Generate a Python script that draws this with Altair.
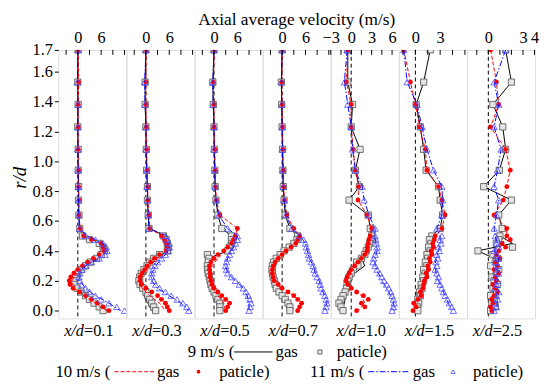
import altair as alt
import pandas as pd

FONT = "Liberation Serif"
W, H = 69, 272

PANELS = ["0.1", "0.3", "0.5", "0.7", "1.0", "1.5", "2.5"]
X_DOMAINS = [[-5, 12.5]] * 4 + [[-3, 7], [-2, 6.25], [-1.85, 4.05]]
X_LABELS = [[0, 6]] * 4 + [[-3, 0, 3, 6], [0, 3], [0, 3, 4]]
X_TICKS = [[-3, 0, 3, 6, 9, 12]] * 4 + [[-3, -1.5, 0, 1.5, 3, 4.5, 6],
                                        [-1.5, 0, 1.5, 3, 4.5, 6],
                                        [-1, 0, 1, 2, 3, 4]]
Y_TICKS = [0.0, 0.2, 0.4, 0.6, 0.8, 1.0, 1.2, 1.4, 1.6, 1.7]

R_UP = [1.70, 1.53, 1.38, 1.23, 1.08, 0.94, 0.83, 0.74, 0.64, 0.55]
R_GAS_LOW = [0.50, 0.45, 0.40, 0.35, 0.30, 0.25, 0.20, 0.15, 0.10, 0.05, 0.00]
R_PT_LOW = [0.500, 0.475, 0.450, 0.425, 0.400, 0.375, 0.350, 0.325, 0.300, 0.275, 0.250,
            0.225, 0.200, 0.175, 0.150, 0.125, 0.100, 0.075, 0.050, 0.025, 0.000]

up9 = [
    [0.1, 0.0, 0.1, 0.0, 0.1, 0.1, 0.2, 0.2, 0.3, 0.5],
    [0.0, -0.2, -0.2, 0.0, 0.1, 0.2, 0.4, 0.4, 0.6, 0.8],
    [0.0, -0.3, -0.2, 0.0, 0.1, 0.2, 0.3, 0.5, 1.0, 2.0],
    [0.0, -0.2, -0.1, 0.0, 0.1, 0.2, 0.3, 0.5, 0.8, 2.0],
    [-0.5, -0.5, 0.2, 0.0, 1.3, 0.6, 1.2, -0.3, 2.5, 2.8],
    [1.8, 1.0, 0.1, 0.6, 1.0, 1.3, 2.8, 3.0, 3.3, 3.0],
    [1.5, 2.0, 0.4, 1.25, 1.5, 0.95, -0.4, 2.0, 0.9, 1.2],
]
up10 = [
    [0.1, 0.2, 0.1, 0.1, 0.1, 0.2, 0.2, 0.3, 0.3, 0.6],
    [0.1, 0.0, 0.0, 0.1, 0.2, 0.3, 0.5, 0.5, 0.8, 1.0],
    [0.1, -0.2, 0.0, 0.0, 0.2, 0.3, 0.4, 0.6, 1.5, 6.0],
    [0.1, -0.1, 0.0, 0.1, 0.2, 0.3, 0.4, 0.6, 1.2, 3.0],
    [-0.5, -0.7, 0.0, 0.0, 0.3, 0.6, 1.1, 1.0, 2.3, 3.0],
    [-1.4, -0.6, 0.0, 0.5, 1.2, 1.4, 2.8, 3.2, 3.6, 3.2],
    [0.2, 0.7, 0.9, 0.2, 1.5, 1.9, 1.6, 1.3, 0.5, 1.6],
]
up11 = [
    [0.0, -0.1, 0.0, 0.0, 0.0, 0.1, 0.1, 0.2, 0.2, 0.4],
    [0.0, -0.3, -0.2, 0.0, 0.0, 0.2, 0.3, 0.4, 0.6, 0.8],
    [0.0, -0.3, -0.2, 0.0, 0.0, 0.2, 0.3, 0.5, 1.2, 3.5],
    [0.0, -0.2, -0.1, 0.0, 0.1, 0.2, 0.3, 0.5, 1.0, 2.5],
    [-0.6, -1.0, -0.5, 0.0, 0.2, 0.6, 1.6, 1.9, 2.6, 3.5],
    [-1.4, -1.0, 0.2, 0.8, 1.4, 2.2, 3.2, 3.3, 3.2, 2.6],
    [1.5, 0.5, 0.9, 0.5, 1.1, 0.8, 0.5, 0.9, 0.7, 0.5],
]

gas9 = [
    [1.5, 6.0, 6.8, 4.5, 2.0, 0.0, -1.0, -0.5, 1.5, 4.0, 6.0],
    [5.0, 5.5, 5.5, 2.5, 0.8, -1.0, -1.5, 0.5, -0.5, 0.5, 1.5],
    [4.5, 4.5, 3.5, -1.5, -1.5, -1.2, -0.8, -0.5, 0.5, 1.5, 1.5],
    [4.0, 3.0, 0.5, -1.5, -2.5, -2.5, -2.0, -1.5, 0.0, 1.5, 2.0],
    [3.0, 2.8, 2.3, 1.5, 2.0, 0.5, -0.3, -0.5, -0.8, -1.0, -1.5],
    [2.0, 1.8, 1.6, 1.4, 1.3, 1.0, 0.8, 0.6, 0.4, 0.2, 0.2],
    [1.0, 2.1, -0.9, 0.5, 0.8, 0.4, 0.6, 0.3, 0.5, 0.2, 0.4],
]
gas10 = [
    [2.0, 6.0, 7.0, 5.0, 2.0, 0.0, -1.5, -1.0, 1.5, 4.5, 7.5],
    [4.0, 5.0, 5.5, 3.0, 1.0, -0.8, -1.5, -1.0, 1.0, 3.5, 5.0],
    [5.5, 4.5, 3.0, 1.0, -0.5, -1.0, -1.0, -0.5, 1.0, 2.5, 3.0],
    [4.5, 3.5, 1.0, -1.0, -2.3, -2.5, -2.0, 0.0, 3.0, 5.0, 4.0],
    [2.8, 2.5, 2.3, 1.5, 0.5, -0.3, -0.5, 0.2, 1.5, 2.0, 1.0],
    [2.5, 2.2, 2.0, 1.8, 1.5, 1.3, 1.0, 0.8, 0.5, 0.2, -0.2],
    [1.6, 1.2, 0.8, 0.6, 0.7, 0.5, 0.6, 0.4, 0.5, 0.3, 0.4],
]
gas11 = [
    [2.5, 6.5, 7.5, 5.5, 2.0, 0.5, 0.5, 2.0, 4.5, 8.0, 11.0],
    [5.5, 6.0, 6.0, 4.0, 2.5, 1.5, 1.5, 3.0, 6.0, 9.0, 11.0],
    [6.0, 5.5, 4.5, 3.5, 3.0, 3.5, 5.5, 7.5, 8.5, 9.0, 9.0],
    [4.5, 6.0, 6.5, 7.0, 8.0, 8.5, 9.5, 10.0, 11.0, 11.5, 11.0],
    [3.5, 3.6, 3.8, 3.5, 3.5, 4.0, 4.5, 5.2, 5.8, 6.2, 6.4],
    [3.0, 3.0, 2.8, 2.5, 2.4, 2.5, 2.8, 3.2, 3.6, 4.0, 4.4],
    [0.6, 0.8, 0.5, 0.9, 0.7, 0.8, 0.6, 0.9, 0.7, 0.8, 0.6],
]

pt9 = [
    [1.2, 3.0, 5.5, 6.5, 6.8, 6.0, 4.8, 3.2, 2.0, 1.0, 0.0, -0.5, -1.0, -0.8, -0.2, 0.8, 2.0, 3.0, 4.2, 5.5, 6.5],
    [4.5, 5.2, 5.5, 5.8, 5.5, 3.5, 2.0, 1.0, 0.3, -0.5, -1.2, -1.6, -1.8, -1.5, -0.8, 0.0, 0.5, 1.0, 1.5, 2.0, 2.5],
    [4.5, 4.5, 4.5, 4.0, 3.5, -1.7, -1.3, -1.5, -1.7, -1.6, -1.5, -1.2, -1.0, -0.8, -0.5, 0.0, 0.5, 1.0, 1.5, 1.5, 1.5],
    [4.0, 3.8, 3.0, 1.8, 0.5, -0.5, -1.5, -2.2, -2.5, -2.6, -2.5, -2.3, -2.0, -1.8, -1.5, -0.8, 0.0, 0.8, 1.5, 2.0, 2.0],
    [3.0, 2.9, 2.7, 2.5, 2.2, 2.0, 1.5, 0.8, 1.0, 0.3, 0.0, -0.3, -0.5, -0.6, -0.7, -0.9, -1.2, -1.5, -1.8, -1.5, -1.2],
    [2.0, 1.7, 1.9, 1.6, 1.8, 1.4, 1.5, 1.2, 1.4, 1.0, 1.2, 0.9, 1.0, 0.7, 0.8, 0.5, 0.6, 0.3, 0.4, 0.2, 0.3],
    [1.0, 0.9, 0.7, 2.1, -0.9, 0.4, 0.8, 0.6, 0.2, 0.9, 0.7, 0.3, 0.5, 0.8, 0.4, 0.6, 0.2, 0.5, 0.3, 0.6, 0.2],
]
pt10 = [
    [1.5, 3.5, 6.0, 6.5, 6.8, 5.5, 4.0, 2.5, 1.2, 0.0, -1.0, -1.8, -2.2, -2.0, -1.2, 0.5, 2.0, 3.5, 5.0, 6.5, 8.0],
    [4.0, 4.8, 5.3, 5.5, 5.2, 3.5, 2.2, 1.2, 0.3, -0.3, -1.0, -1.5, -1.5, -1.2, 0.0, 1.5, 3.0, 4.0, 5.0, 5.5, 6.0],
    [5.5, 5.0, 4.5, 3.5, 2.5, 1.0, 0.0, -0.8, -1.2, -1.2, -1.0, -1.0, -0.8, -0.5, 0.0, 1.0, 2.0, 3.0, 4.0, 3.5, 3.0],
    [4.5, 4.0, 3.5, 2.3, 1.0, 0.0, -1.0, -1.8, -2.3, -2.5, -2.5, -2.3, -2.0, -1.0, 0.0, 1.5, 3.0, 4.0, 5.0, 4.5, 4.0],
    [2.8, 2.6, 2.5, 2.4, 2.3, 2.0, 1.5, 1.0, 0.5, 0.0, -0.3, -0.6, -0.8, -0.5, 0.0, 0.8, 1.8, 2.5, 1.5, 2.0, 0.8],
    [2.4, 2.3, 2.1, 2.2, 1.9, 2.0, 1.7, 1.8, 1.5, 1.6, 1.3, 1.4, 1.1, 1.0, 0.9, 0.6, 0.7, 0.3, -0.2, 0.1, -0.3],
    [1.6, 1.9, 1.2, 1.5, 0.9, 0.7, 1.0, 0.6, 0.8, 0.5, 0.9, 0.6, 0.7, 0.4, 0.6, 0.8, 0.5, 0.3, 0.4, 0.2, 0.3],
]
pt11 = [
    [2.0, 4.5, 6.5, 7.3, 7.5, 7.0, 5.5, 3.5, 2.0, 1.0, 0.5, 0.3, 0.5, 1.0, 2.0, 3.0, 4.5, 6.0, 8.0, 10.0, 12.0],
    [5.0, 5.5, 6.0, 6.0, 5.8, 5.0, 4.0, 3.0, 2.3, 1.8, 1.5, 1.5, 2.0, 2.5, 3.5, 5.0, 6.5, 8.0, 9.5, 10.5, 11.0],
    [6.0, 6.0, 5.5, 5.0, 4.5, 4.0, 3.5, 3.2, 3.0, 3.2, 3.5, 4.5, 5.5, 6.5, 7.5, 8.2, 8.8, 9.2, 9.5, 9.3, 9.0],
    [4.5, 5.5, 6.0, 6.2, 6.5, 6.8, 7.0, 7.5, 8.0, 8.2, 8.5, 9.0, 9.5, 9.8, 10.0, 10.5, 11.0, 11.3, 11.5, 11.3, 11.0],
    [3.5, 3.6, 3.7, 3.8, 3.8, 3.5, 3.3, 3.2, 3.5, 3.8, 4.2, 4.5, 4.8, 5.2, 5.5, 5.8, 6.0, 6.2, 6.3, 6.2, 6.0],
    [3.2, 3.0, 3.1, 2.8, 2.9, 2.6, 2.7, 2.5, 2.6, 2.4, 2.6, 2.8, 2.7, 3.0, 3.2, 3.4, 3.6, 3.9, 4.1, 4.4, 4.6],
    [0.6, 0.8, 0.7, 0.9, 0.5, 0.7, 0.9, 0.6, 0.8, 0.7, 0.9, 0.6, 0.8, 0.7, 0.6, 0.9, 0.7, 0.8, 0.6, 0.7, 0.5],
]

SERIES = {
    "9": (up9, gas9, pt9),
    "10": (up10, gas10, pt10),
    "11": (up11, gas11, pt11),
}

LINE_STYLE = {
    "9": dict(color="black", strokeWidth=1),
    "10": dict(color="#ff0000", strokeWidth=1, strokeDash=[4, 2]),
    "11": dict(color="#0000ff", strokeWidth=1, strokeDash=[6, 2, 1.5, 2]),
}


def point_mark(s):
    if s == "9":
        return alt.Chart().mark_point(shape="square", filled=True, fill="#e4e4e4", stroke="#505050",
                                      strokeWidth=0.8, size=40, opacity=1, clip=True)
    if s == "10":
        return alt.Chart().mark_circle(color="#ff0000", size=24, opacity=1, clip=True)
    return alt.Chart().mark_point(shape="triangle-up", filled=False, stroke="#4a4aff",
                                  strokeWidth=0.8, size=42, opacity=1, clip=True)


y_scale = alt.Scale(domain=[-0.052, 1.6, 1.7], range=[H, 22, 0], nice=False, zero=False)

rows = []
for p in range(len(PANELS)):
    for s, (up, gas, pt) in SERIES.items():
        for i, (r, v) in enumerate(zip(R_UP + R_GAS_LOW, up[p] + gas[p])):
            rows.append(dict(panel=p, series=s, kind="gas", r=r, v=v, o=i))
        for i, (r, v) in enumerate(zip(R_UP + R_PT_LOW, up[p] + pt[p])):
            rows.append(dict(panel=p, series=s, kind="pt", r=r, v=v, o=i))
df = pd.DataFrame(rows)

legend_text = pd.DataFrame({
    "t": ["9 m/s (", "gas", "paticle)", "10 m/s  (", "gas", "paticle)", "11 m/s  (", "gas", "paticle)"],
    "px": [131, 220, 282, -3, 100, 163, 255, 359, 420],
    "py": [306, 306, 306, 326, 326, 326, 326, 326, 326],
})
one = pd.DataFrame({"a": [0]})

panels = []
for p, name in enumerate(PANELS):
    x_axis = alt.Axis(orient="top", values=X_LABELS[p], format="d", ticks=False, tickSize=0,
                      domain=False, grid=False, labelFont=FONT, labelFontSize=16.5, labelColor="black",
                      labelPadding=5, labelFlush=False, labelOverlap=False, title=None)
    if p == 0:
        y_axis = alt.Axis(values=Y_TICKS, format=".1f", grid=False, domain=False, tickSize=4,
                          tickColor="black", labelFont=FONT, labelFontSize=16.5, labelColor="black",
                          labelPadding=2, labelFlush=False, labelOverlap=False,
                          title="r/d", titleFont=FONT, titleFontSize=19, titleFontStyle="italic",
                          titleFontWeight="normal", titleColor="black", titleX=-39, titleY=129,
                          titleAlign="center", titleBaseline="middle")
    else:
        y_axis = None
    xs = alt.Scale(domain=X_DOMAINS[p], nice=False, zero=False)
    X = alt.X("v:Q", scale=xs, axis=x_axis)
    Y = alt.Y("r:Q", scale=y_scale, axis=y_axis)

    dp = df[df.panel == p]
    layers = [
        alt.Chart(pd.DataFrame({"v": [0.0]})).mark_rule(color="black", strokeWidth=1,
                                                         strokeDash=[4, 3]).encode(x=X)
    ]
    for s in ["9", "10", "11"]:
        dl = dp[(dp.series == s) & (dp.kind == "gas")]
        dpt = dp[(dp.series == s) & (dp.kind == "pt")]
        layers.append(alt.Chart(dl).mark_line(clip=True, **LINE_STYLE[s]).encode(
            x=X, y=Y, order="o:Q"))
        pm = point_mark(s)
        layers.append(pm.properties(data=dpt).encode(x=X, y=Y))
    layers.append(alt.Chart(pd.DataFrame({"v": X_TICKS[p]})).mark_rule(
        color="black", strokeWidth=1).encode(x=X, y=alt.value(0), y2=alt.value(5)))
    layers.append(alt.Chart(one).mark_text(text="x/d", font=FONT, fontSize=16.5, fontStyle="italic",
                                          align="right", baseline="middle", color="black").encode(
        x=alt.value(26), y=alt.value(285)))
    layers.append(alt.Chart(one).mark_text(text="=" + name, font=FONT, fontSize=16.5,
                                          align="left", baseline="middle", color="black").encode(
        x=alt.value(26), y=alt.value(285)))
    if p == 3:
        layers.append(alt.Chart(one).mark_text(text="Axial average velocity (m/s)", font=FONT,
                                              fontSize=17.5, align="center", baseline="alphabetic",
                                              color="black").encode(
            x=alt.value(W / 2), y=alt.value(-25)))
    if p == 0:
        layers.append(alt.Chart(legend_text).mark_text(font=FONT, fontSize=17, align="left",
                                                      baseline="middle", color="black").encode(
            x=alt.X("px:Q", scale=None), y=alt.Y("py:Q", scale=None), text="t:N"))
        layers.append(alt.Chart(one).mark_rule(color="black", strokeWidth=1).encode(
            x=alt.value(178), x2=alt.value(217), y=alt.value(306)))
        layers.append(alt.Chart(one).mark_rule(color="#ff0000", strokeWidth=1, strokeDash=[4, 2]).encode(
            x=alt.value(57), x2=alt.value(97), y=alt.value(326)))
        layers.append(alt.Chart(one).mark_rule(color="#0000ff", strokeWidth=1,
                                               strokeDash=[6, 2, 1.5, 2]).encode(
            x=alt.value(314), x2=alt.value(355), y=alt.value(326)))
        layers.append(alt.Chart(one).mark_point(shape="square", filled=True, fill="#e4e4e4",
                                                stroke="#505050", strokeWidth=0.8, size=18,
                                                opacity=1).encode(
            x=alt.value(265), y=alt.value(306)))
        layers.append(alt.Chart(one).mark_circle(color="#ff0000", size=14, opacity=1).encode(
            x=alt.value(142), y=alt.value(326)))
        layers.append(alt.Chart(one).mark_point(shape="triangle-up", filled=False, stroke="#4a4aff",
                                                strokeWidth=0.8, size=18, opacity=1).encode(
            x=alt.value(400), y=alt.value(326)))
    panels.append(alt.layer(*layers).properties(width=W, height=H))

chart = alt.hconcat(*panels, spacing=0, bounds="flush").resolve_scale(
    x="independent", y="independent"
).properties(
    padding={"left": 2, "top": 0, "right": 2, "bottom": 2}
).configure_view(
    stroke="black", strokeWidth=1.2
).configure(background="white")

chart.save("out.html", embed_options={"renderer": "svg", "actions": False})
